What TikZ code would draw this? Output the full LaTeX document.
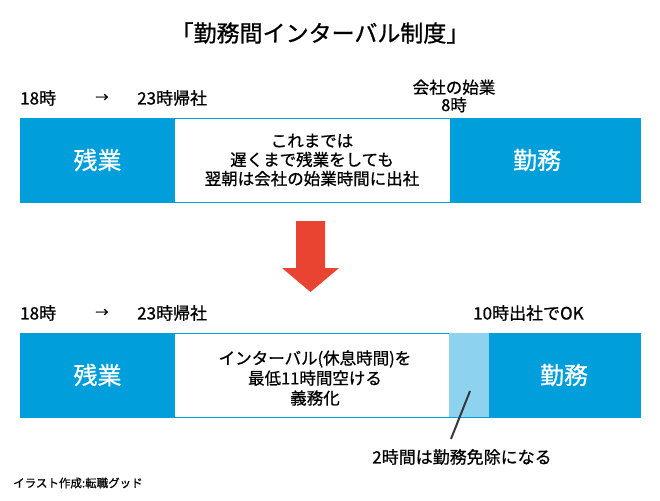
\documentclass[tikz,border=0pt]{standalone}
\usepackage{fontspec}
\setmainfont{Noto Sans CJK JP}[RawFeature={embolden=0.8}]
\usetikzlibrary{calc}

\definecolor{barblue}{RGB}{0,158,219}
\definecolor{gapblue}{RGB}{141,211,240}
\definecolor{arrowred}{RGB}{233,67,50}
\definecolor{pointergray}{RGB}{55,55,55}

\begin{document}
\begin{tikzpicture}[x=1pt,y=-1pt,
  lbl/.style={inner sep=0pt,font=\fontsize{17}{17}\selectfont},
  midtext/.style={inner sep=0pt,align=center,font=\fontsize{16.5}{19}\selectfont},
  bartext/.style={inner sep=0pt,text=white,font=\fontsize{24}{24}\selectfont}]
\useasboundingbox (0,0) rectangle (660,500);

%bar info
\def\l{20}
\def\r{640}
\def\wl{175}
\def\wr{450}
\def\h{84}
\def\ta{118}
\def\tb{333}
%coordinates
\coordinate (G1) at (449,\tb);
\coordinate (G2) at (489,\tb+\h);
\coordinate (tip) at (470,391);

%draw bars
\foreach \t in {\ta,\tb}{
    \draw[barblue,line width=1pt,fill=white] (\l,\t) rectangle (\r,\t+\h);
    \fill[barblue] (\l,\t) rectangle (\wl,\t+\h);
}
\fill[barblue] (\wr,\ta) rectangle (\r,\ta+\h);
\fill[gapblue] (G1) rectangle (G2);
\fill[barblue] (G2 |- G1) rectangle (\r,\tb+\h);

%red arrow
\fill[arrowred] (296,221) -- (325,221) -- (325,268) -- (339,268)
    -- (310.5,292) -- (282,268) -- (296,268) -- cycle;

%title
\node[inner sep=0pt,font=\fontsize{23}{23}\selectfont] (title) at (320,33) {「勤務間インターバル制度」};

%labels above bars
\foreach \y/\n in {98/a,313/b}{
    \node[lbl,anchor=west] (from\n) at (20,\y) {18時};
    \node[inner sep=0pt,font=\fontsize{13}{13}\selectfont] (arr\n) at (102,\y) {→};
    \node[lbl,anchor=west] (back\n) at (137,\y) {23時帰社};
}
\node[lbl,align=center,font=\fontsize{16.5}{17.5}\selectfont] (start) at (454,96) {会社の始業\\8時};
\node[lbl,anchor=west] (late) at (473,313) {10時出社でOK};

%bar texts
\node[bartext] (overa) at (97.5,160) {残業};
\node[bartext] (worka) at (537,160) {勤務};
\node[midtext] (before) at (312,160) {これまでは\\遅くまで残業をしても\\翌朝は会社の始業時間に出社};
\node[bartext] (overb) at (97.5,375) {残業};
\node[bartext] (workb) at (564,375) {勤務};
\node[midtext,font=\fontsize{16.5}{20}\selectfont] (after) at (315,378) {インターバル(休息時間)を\\最低11時間空ける\\義務化};

%note
\node[lbl] (note) at (462,457) {2時間は勤務免除になる};
\draw[pointergray,line width=2pt] (tip) -- ([xshift=-11pt,yshift=10pt]note.north);

\node[inner sep=0pt,anchor=west,font=\fontsize{11.5}{11.5}\selectfont] (credit) at (13,483) {イラスト作成:転職グッド};

\end{tikzpicture}
\end{document}
